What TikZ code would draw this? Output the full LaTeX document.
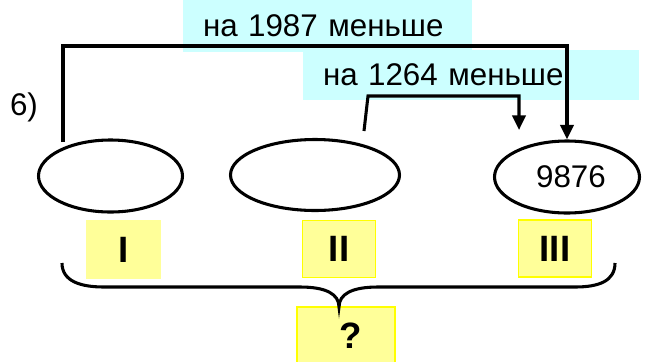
\documentclass[tikz,border=0pt]{standalone}
\usepackage{fontspec}
\setmainfont{Liberation Sans}
\usetikzlibrary{arrows.meta,positioning,shapes.geometric}
\definecolor{cyanLt} {HTML}{CCFFFF}
\definecolor{lemon}  {HTML}{FFFF99}
\definecolor{lemonDk}{HTML}{FFFF00}

\begin{document}
\begin{tikzpicture}[x=0.75pt, y=-0.75pt,
   part/.style={ellipse, draw=black, line width=2.3pt, inner sep=0pt,
                font=\fontsize{23.5}{28}\selectfont},
   tag/.style={rectangle, fill=lemon, draw=lemonDk, line width=1.2pt, inner sep=0pt,
               minimum width=54.75pt, minimum height=42.75pt,
               font=\fontsize{27.5}{32}\selectfont\bfseries},
   note/.style={rectangle, fill=cyanLt, inner xsep=15pt, inner ysep=0pt, align=left,
                font=\fontsize{23.5}{28}\selectfont},
   link/.style={draw=black, line width=2.3pt},
   arr/.style={link, -{Triangle[length=11pt, width=10pt]}}
]
\useasboundingbox (0,0) rectangle (649,361);
\clip (0,0) rectangle (649,361);
% differences
\node[note, text width=186.75pt, minimum height=39pt] (n1) at (327.5,26) {на 1987 меньше};
\node[note, text width=222pt, minimum height=37.5pt] (n2) at (471,75) {на 1264 меньше};
\node[font=\fontsize{23.5}{28}\selectfont] (num) at (24,107) {6)};
% the three numbers
\node[part, minimum width=108pt, minimum height=54pt] (e1) at (110.5,176) {};
\node[part, minimum width=126.75pt, minimum height=53.25pt] (e2) at (315,175) {};
\node[part, minimum width=108.75pt, minimum height=54pt] (e3) at (567,177) {\hspace{6pt}9876};
\node[tag, draw=lemon] (t1) at (123.5,249.5) {I\hspace{18pt}};
\node[tag] (t2) at (339,249) {II\hspace{7pt}};
\node[tag] (t3) at (555,248.5) {III};
\node[tag, minimum width=73.5pt] (q) at (346,335.5) {\hspace{7pt}?};
% brackets
\coordinate (s1) at (63,142);
\coordinate (hi) at (0,46);
\draw[arr] (s1) -- (s1 |- hi) -| (e3.north);
\coordinate (s2) at (364,131);
\coordinate (k2) at (368,96);
\coordinate (f2) at (519,130);
\draw[arr] (s2) -- (k2) -| (f2);
% brace over the sum
\draw[link] (62,263) .. controls (62,281) and (80,287) .. (104,287) -- (300,287)
   .. controls (326,287) and (339,294) .. (339,307)
   .. controls (339,294) and (352,287) .. (378,287) -- (575,287)
   .. controls (599,287) and (615,281) .. (615,263);
\end{tikzpicture}
\end{document}
